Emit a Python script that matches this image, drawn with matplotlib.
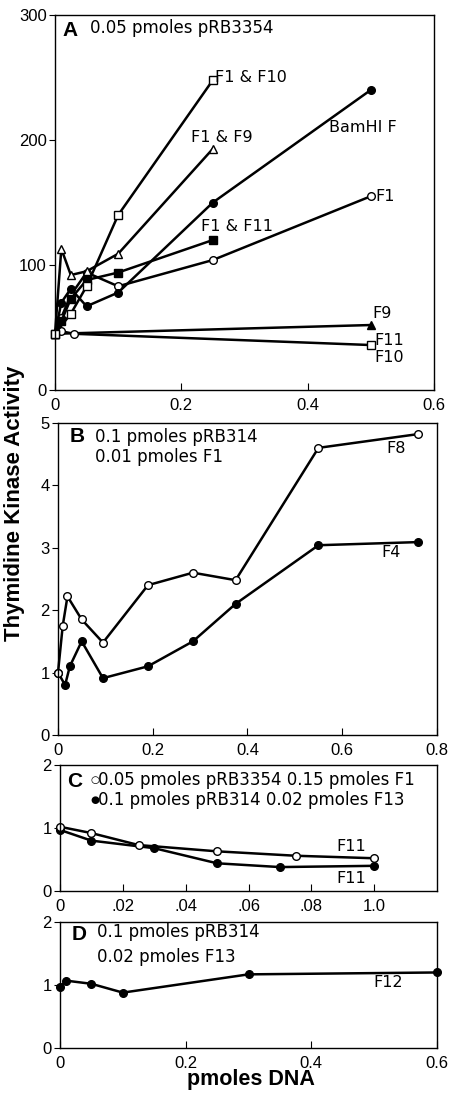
import matplotlib
matplotlib.use("Agg")
import matplotlib.pyplot as plt

plt.rcParams['font.family'] = ['Liberation Sans', 'DejaVu Sans']

# --- Panel A: 0.05 pmoles pRB3354 ---
a_f1f10_x = [0, 0.025, 0.05, 0.1, 0.25]
a_f1f10_y = [45, 61, 83, 140, 248]
a_f1f9_x = [0, 0.01, 0.025, 0.05, 0.1, 0.25]
a_f1f9_y = [45, 113, 92, 95, 109, 193]
a_bam_x = [0, 0.01, 0.025, 0.05, 0.1, 0.25, 0.5]
a_bam_y = [45, 70, 81, 67, 78, 150, 240]
a_f1f11_x = [0, 0.01, 0.025, 0.05, 0.1, 0.25]
a_f1f11_y = [45, 55, 73, 88, 94, 120]
a_f1_x = [0, 0.01, 0.025, 0.05, 0.1, 0.25, 0.5]
a_f1_y = [45, 58, 76, 94, 83, 104, 155]
a_f9_x = [0, 0.5]
a_f9_y = [45, 52]
a_f10_x = [0, 0.01, 0.03, 0.5]
a_f10_y = [45, 47, 45, 36]

# --- Panel B: 0.1 pmoles pRB314, 0.01 pmoles F1 ---
b_f8_x = [0, 0.01, 0.02, 0.05, 0.095, 0.19, 0.285, 0.375, 0.55, 0.76]
b_f8_y = [1.0, 1.75, 2.22, 1.85, 1.48, 2.4, 2.6, 2.48, 4.6, 4.82]
b_f4_x = [0, 0.015, 0.025, 0.05, 0.095, 0.19, 0.285, 0.375, 0.55, 0.76]
b_f4_y = [1.0, 0.8, 1.1, 1.5, 0.91, 1.1, 1.5, 2.1, 3.04, 3.09]

# --- Panel C ---
c_open_x = [0, 0.01, 0.025, 0.05, 0.075, 0.1]
c_open_y = [1.02, 0.92, 0.73, 0.63, 0.56, 0.52]
c_fill_x = [0, 0.01, 0.03, 0.05, 0.07, 0.1]
c_fill_y = [0.97, 0.8, 0.68, 0.44, 0.38, 0.4]
c_ticks = [0, 0.02, 0.04, 0.06, 0.08, 0.1]
c_ticklabels = ['0', '.02', '.04', '.06', '.08', '1.0']

# --- Panel D ---
d_x = [0, 0.01, 0.05, 0.1, 0.3, 0.6]
d_y = [0.97, 1.07, 1.02, 0.88, 1.17, 1.2]

fig = plt.figure(figsize=(4.51, 10.95), dpi=100)
axA = fig.add_axes([0.122, 0.6438, 0.840, 0.3425])
axB = fig.add_axes([0.1286, 0.3288, 0.840, 0.285])
axC = fig.add_axes([0.133, 0.1863, 0.836, 0.115])
axD = fig.add_axes([0.133, 0.0429, 0.836, 0.115])

lw = 1.8
ms = 5.5
open_kw = dict(color='black', mfc='white', mec='black', lw=lw, ms=ms, mew=1.0)
fill_kw = dict(color='black', mfc='black', mec='black', lw=lw, ms=ms, mew=1.0)
tf = dict(family='DejaVu Sans', fontsize=12, va='center')
lf = dict(family='DejaVu Sans', fontsize=11.5, va='center')

# Panel A
axA.plot(a_f9_x, a_f9_y, marker='^', **fill_kw)
axA.plot(a_f10_x, a_f10_y, marker='o', **open_kw)
axA.plot(a_f10_x[-1], a_f10_y[-1], marker='s', **open_kw)
axA.plot(a_f1_x, a_f1_y, marker='o', **open_kw)
axA.plot(a_f1f11_x, a_f1f11_y, marker='s', **fill_kw)
axA.plot(a_bam_x, a_bam_y, marker='o', **fill_kw)
axA.plot(a_f1f9_x, a_f1f9_y, marker='^', **open_kw)
axA.plot(a_f1f10_x, a_f1f10_y, marker='s', **open_kw)
axA.set_xlim(0, 0.6)
axA.set_ylim(0, 300)
axA.set_xticks([0, 0.2, 0.4, 0.6])
axA.set_xticklabels(['0', '0.2', '0.4', '0.6'])
axA.set_yticks([0, 100, 200, 300])
axA.text(0.253, 250, 'F1 & F10', **lf)
axA.text(0.216, 202, 'F1 & F9', **lf)
axA.text(0.434, 210, 'BamHI F', **lf)
axA.text(0.508, 155, 'F1', **lf)
axA.text(0.231, 131, 'F1 & F11', **lf)
axA.text(0.503, 61, 'F9', **lf)
axA.text(0.505, 40, 'F11', **lf)
axA.text(0.505, 26, 'F10', **lf)
axA.text(0.02, 0.96, 'A', transform=axA.transAxes, fontsize=15, fontweight='bold', va='center')
axA.text(0.092, 0.965, '0.05 pmoles pRB3354', transform=axA.transAxes, **tf)

# Panel B
axB.plot(b_f4_x, b_f4_y, marker='o', **fill_kw)
axB.plot(b_f8_x, b_f8_y, marker='o', **open_kw)
axB.set_xlim(0, 0.8)
axB.set_ylim(0, 5)
axB.set_xticks([0, 0.2, 0.4, 0.6, 0.8])
axB.set_xticklabels(['0', '0.2', '0.4', '0.6', '0.8'])
axB.set_yticks([0, 1, 2, 3, 4, 5])
axB.text(0.693, 4.59, 'F8', **lf)
axB.text(0.682, 2.93, 'F4', **lf)
axB.text(0.03, 0.955, 'B', transform=axB.transAxes, fontsize=15, fontweight='bold', va='center')
axB.text(0.098, 0.955, '0.1 pmoles pRB314', transform=axB.transAxes, **tf)
axB.text(0.098, 0.89, '0.01 pmoles F1', transform=axB.transAxes, **tf)

# Panel C
axC.plot(c_fill_x, c_fill_y, marker='o', **fill_kw)
axC.plot(c_open_x, c_open_y, marker='o', **open_kw)
axC.set_xlim(0, 0.12)
axC.set_ylim(0, 2)
axC.set_xticks(c_ticks)
axC.set_xticklabels(c_ticklabels)
axC.set_yticks([0, 1, 2])
axC.text(0.088, 0.70, 'F11', **lf)
axC.text(0.088, 0.20, 'F11', **lf)
axC.text(0.02, 0.87, 'C', transform=axC.transAxes, fontsize=15, fontweight='bold', va='center')
axC.text(0.08, 0.88, '\u25cb', transform=axC.transAxes, family='DejaVu Sans', fontsize=7.5, va='center')
axC.text(0.08, 0.72, '\u25cf', transform=axC.transAxes, family='DejaVu Sans', fontsize=7.5, va='center')
axC.text(0.102, 0.88, '0.05 pmoles pRB3354 0.15 pmoles F1', transform=axC.transAxes, **tf)
axC.text(0.102, 0.72, '0.1 pmoles pRB314 0.02 pmoles F13', transform=axC.transAxes, **tf)

# Panel D
axD.plot(d_x, d_y, marker='o', **fill_kw)
axD.set_xlim(0, 0.6)
axD.set_ylim(0, 2)
axD.set_xticks([0, 0.2, 0.4, 0.6])
axD.set_xticklabels(['0', '0.2', '0.4', '0.6'])
axD.set_yticks([0, 1, 2])
axD.text(0.498, 1.04, 'F12', **lf)
axD.text(0.03, 0.90, 'D', transform=axD.transAxes, fontsize=15, fontweight='bold', va='center')
axD.text(0.098, 0.92, '0.1 pmoles pRB314', transform=axD.transAxes, **tf)
axD.text(0.098, 0.72, '0.02 pmoles F13', transform=axD.transAxes, **tf)

for ax in (axA, axB, axC, axD):
    ax.tick_params(axis='x', direction='in', length=5, labelsize=12, pad=6)
    ax.tick_params(axis='y', direction='out', length=4, labelsize=12, pad=2)
    for s in ax.spines.values():
        s.set_linewidth(1.0)
    for ln in ax.lines:
        ln.set_clip_on(False)

fig.text(0.033, 0.54, 'Thymidine Kinase Activity', rotation=90, fontsize=16,
         fontweight='bold', ha='center', va='center')
fig.text(0.557, 0.0137, 'pmoles DNA', fontsize=15.5, fontweight='bold', ha='center', va='center')

fig.savefig('out.png', dpi=100)
